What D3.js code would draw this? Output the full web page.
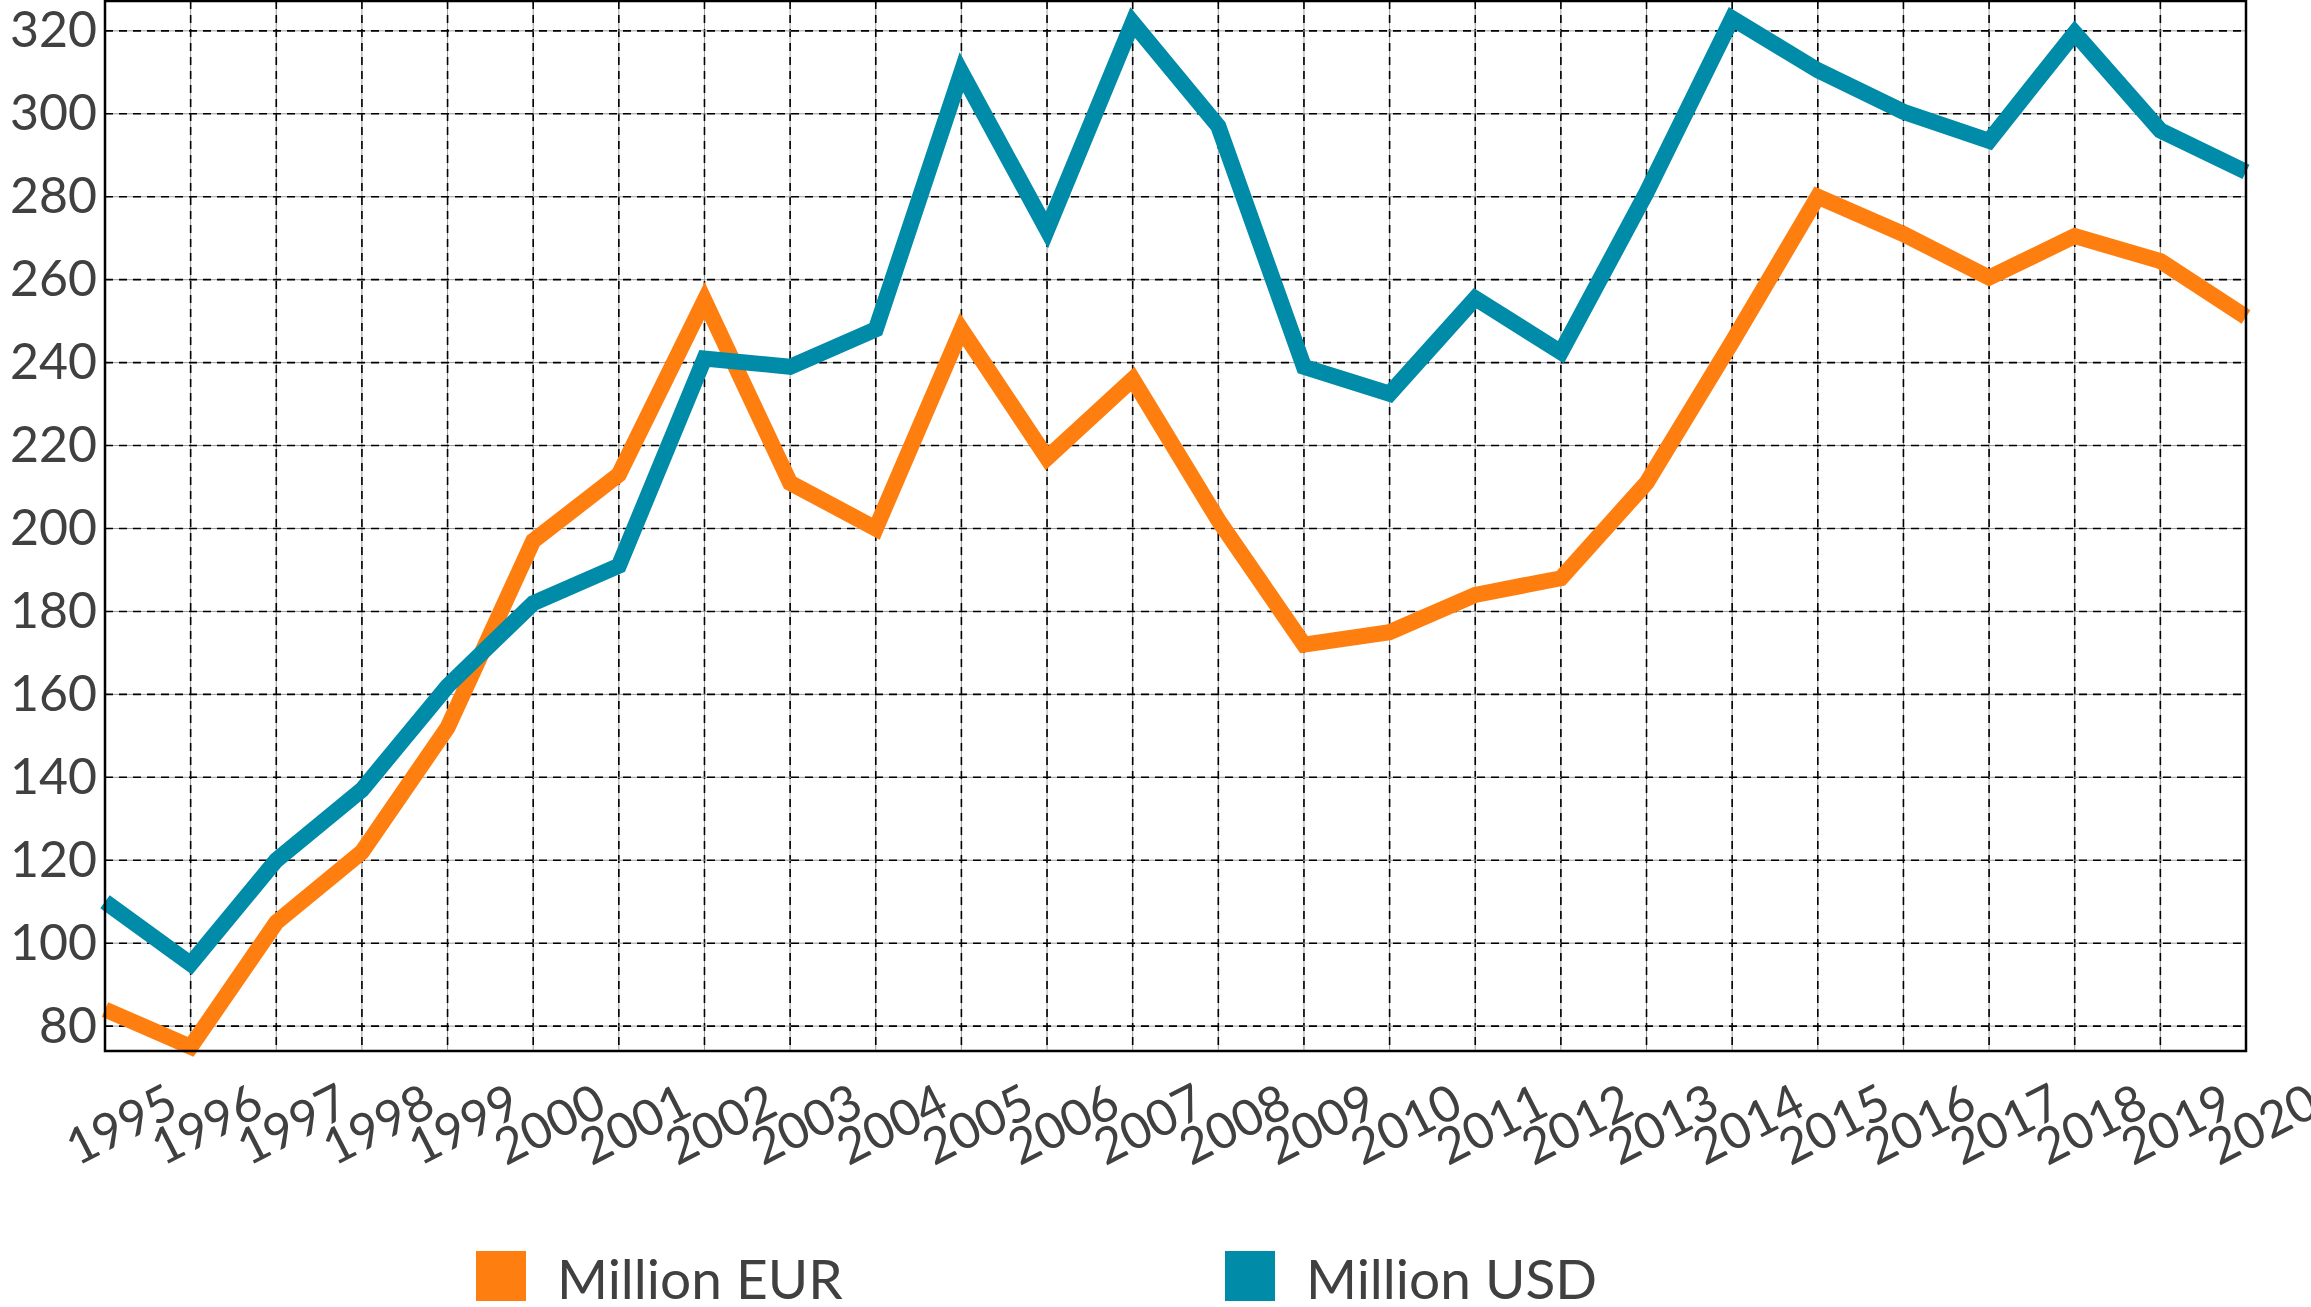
<!DOCTYPE html>
<html>
<head>
    <meta charset="utf-8">
    <title>Million EUR / Million USD</title>
    <script src="https://d3js.org/d3.v7.min.js"></script>
    <style>
        body { margin: 0; background: #fff; }
        text { font-family: Lato, "Noto Sans", sans-serif; fill: #404040; }
    </style>
</head>

<body>
<div id="chart"></div>
<script type="text/javascript">

    // anos (eixo x)
    let years = [1995, 1996, 1997, 1998, 1999, 2000, 2001, 2002, 2003, 2004,
                 2005, 2006, 2007, 2008, 2009, 2010, 2011, 2012, 2013, 2014,
                 2015, 2016, 2017, 2018, 2019, 2020];

    // valores
    let eurValues = [84, 75, 105, 122, 152, 197, 213, 255, 211, 200,
                     248, 217, 236, 202, 172, 175, 184, 188, 211, 245,
                     280, 271, 260.5, 270.5, 264.5, 251];
    let usdValues = [110, 95, 120, 137, 162, 182, 191, 241, 239, 248,
                     310, 272, 322, 297, 239, 232.5, 255.5, 242.5, 281, 323,
                     310.5, 300.5, 293.5, 319.5, 296, 286];

    let yTicks = [80, 100, 120, 140, 160, 180, 200, 220, 240, 260, 280, 300, 320];

    let seriesNames = ["Million EUR", "Million USD"];
    let seriesColors = ["#fe7f10", "#008ba9"];

    let width = 2311;
    let height = 1307;
    let margin = {top: 1, right: 65, bottom: 256, left: 105};
    let w = width - margin.left - margin.right;
    let h = height - margin.top - margin.bottom;

    let svg = d3.select("#chart")
            .append("svg")
                .attr("width", width)
                .attr("height", height);

    let g = svg.append("g")
            .attr("transform", "translate(" + margin.left + "," + margin.top + ")");

    let xScale = d3.scaleLinear()
                .domain([1995, 2020])
                .range([0, w]);

    let yScale = d3.scaleLinear()
                .domain([74, 327.2])
                .range([h, 0]);

    // grade: linha cinza continua + tracejado preto por cima
    let gridX = years.slice(1, years.length - 1);

    g.selectAll(".vgrid-bg")
        .data(gridX)
        .enter()
        .append("line")
        .attr("x1", d => xScale(d))
        .attr("x2", d => xScale(d))
        .attr("y1", 0)
        .attr("y2", h)
        .attr("stroke", "#9a9a9a")
        .attr("stroke-width", 1);

    g.selectAll(".vgrid")
        .data(gridX)
        .enter()
        .append("line")
        .attr("x1", d => xScale(d))
        .attr("x2", d => xScale(d))
        .attr("y1", 0)
        .attr("y2", h)
        .attr("stroke", "#000")
        .attr("stroke-width", 1.6)
        .attr("stroke-dasharray", "8,6");

    g.selectAll(".hgrid-bg")
        .data(yTicks)
        .enter()
        .append("line")
        .attr("x1", 0)
        .attr("x2", w)
        .attr("y1", d => yScale(d))
        .attr("y2", d => yScale(d))
        .attr("stroke", "#9a9a9a")
        .attr("stroke-width", 1);

    g.selectAll(".hgrid")
        .data(yTicks)
        .enter()
        .append("line")
        .attr("x1", 0)
        .attr("x2", w)
        .attr("y1", d => yScale(d))
        .attr("y2", d => yScale(d))
        .attr("stroke", "#000")
        .attr("stroke-width", 1.6)
        .attr("stroke-dasharray", "8,6");

    // linhas das series
    let line = d3.line()
        .x((d, i) => xScale(years[i]))
        .y(d => yScale(d));

    [eurValues, usdValues].forEach(function(values, k) {
        g.append("path")
            .datum(values)
            .attr("d", line)
            .attr("fill", "none")
            .attr("stroke", seriesColors[k])
            .attr("stroke-width", 16)
            .attr("stroke-linejoin", "miter")
            .attr("stroke-miterlimit", 10);
    });

    // moldura
    g.append("rect")
        .attr("x", 0)
        .attr("y", 0)
        .attr("width", w)
        .attr("height", h)
        .attr("fill", "none")
        .attr("stroke", "#000")
        .attr("stroke-width", 2.5);

    // eixo y
    let yAxis = d3.axisLeft(yScale)
                .tickValues(yTicks)
                .tickSize(0)
                .tickPadding(8);

    let yg = g.append("g").call(yAxis);
    yg.select(".domain").remove();
    yg.selectAll("text")
        .attr("font-size", "50px")
        .style("font-family", "Lato, sans-serif")
        .attr("fill", "#404040");

    // eixo x com rotulos inclinados
    let xAxis = d3.axisBottom(xScale)
                .tickValues(years)
                .tickFormat(d3.format("d"))
                .tickSize(0);

    let xg = g.append("g")
        .attr("transform", "translate(0," + h + ")")
        .call(xAxis);
    xg.select(".domain").remove();
    xg.selectAll("text")
        .attr("font-size", "50px")
        .style("font-family", "Lato, sans-serif")
        .attr("fill", "#404040")
        .attr("text-anchor", "middle")
        .attr("dy", null)
        .attr("y", null)
        .attr("dominant-baseline", "central")
        .attr("transform", "translate(15,72) rotate(-27)");

    // legenda
    let legendX = [476, 1225];
    seriesNames.forEach(function(name, k) {
        svg.append("rect")
            .attr("x", legendX[k])
            .attr("y", 1251)
            .attr("width", 50)
            .attr("height", 50)
            .attr("fill", seriesColors[k]);
        svg.append("text")
            .attr("x", legendX[k] + 81)
            .attr("y", 1299)
            .attr("font-size", "55px")
            .text(name);
    });

</script>
</body>
</html>
